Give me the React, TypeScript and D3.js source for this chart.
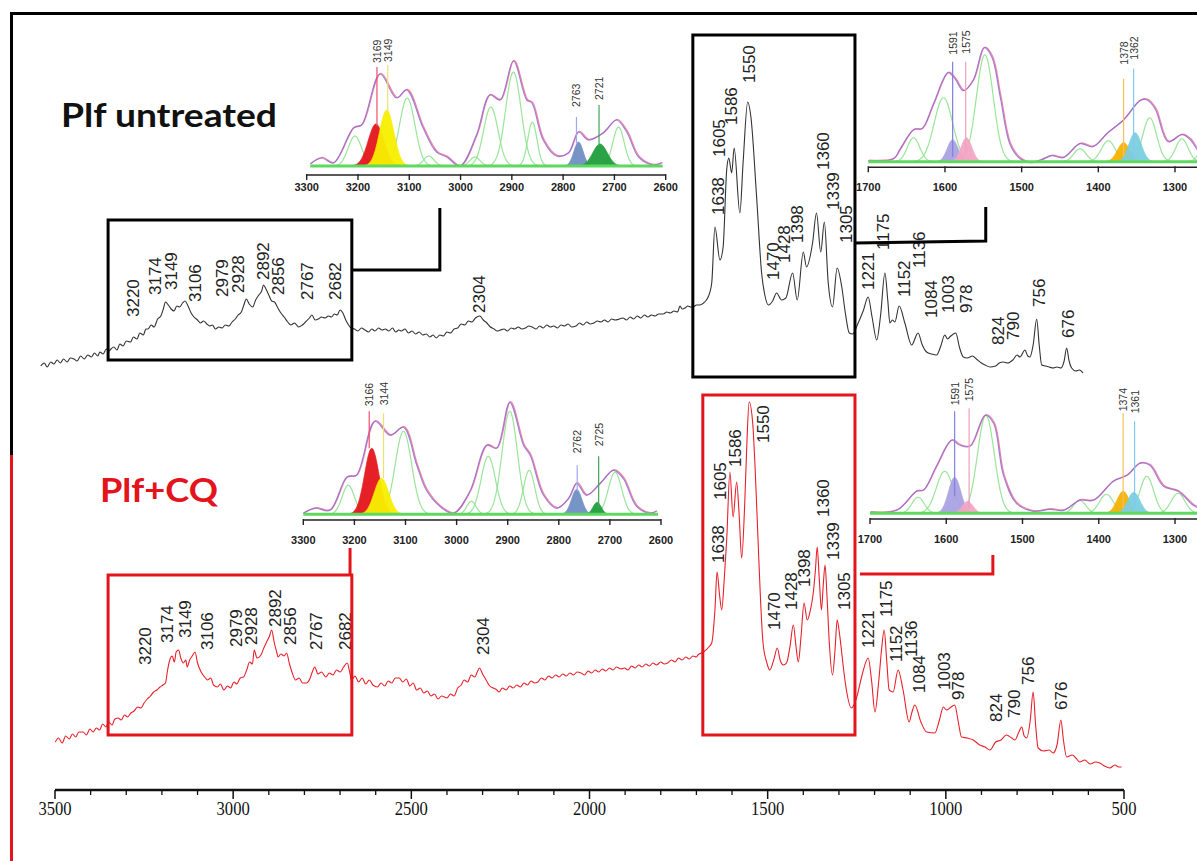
import React from 'react';
import * as d3 from 'd3';

// ---------------- DATA ----------------
const axisMajorTicks = [3500, 3000, 2500, 2000, 1500, 1000, 500];
const axisMajorLabels = ['3500', '3000', '2500', '2000', '1500', '1000', '500'];

// Plf untreated spectrum: [wavenumber cm-1, intensity a.u.]
const untreatedSpectrum: [number, number][] = [
  [3540,9],[3530,12],[3522,8],[3512,13],[3503,11],[3494,15],[3485,12],[3476,16],[3466,13],[3457,17],[3447,16],[3438,14],[3428,19],[3418,16],[3408,20],[3398,18],[3389,22],[3380,19],[3374,23],[3365,21],[3356,26],[3348,24],[3343,26],[3335,28],[3326,25],[3318,31],[3309,29],[3300,34],[3288,33],[3280,38],[3270,36],[3262,42],[3252,40],[3245,46],[3239,46],[3230,50],[3222,48],[3212,56],[3203,59],[3196,66],[3190,73],[3182,70],[3174,66],[3166,64],[3158,69],[3150,68],[3142,72],[3135,74],[3128,70],[3118,62],[3110,58],[3100,55],[3092,52],[3083,54],[3074,51],[3066,49],[3058,50],[3050,46],[3040,48],[3031,47],[3022,50],[3012,49],[3003,53],[2994,56],[2986,60],[2977,63],[2970,70],[2963,76],[2955,71],[2945,68],[2937,75],[2928,80],[2920,84],[2915,90],[2908,86],[2900,80],[2892,74],[2884,73],[2876,68],[2866,62],[2857,58],[2847,53],[2838,50],[2828,52],[2816,48],[2806,50],[2797,53],[2786,57],[2779,60],[2770,55],[2761,56],[2752,58],[2742,57],[2733,59],[2724,58],[2716,61],[2708,60],[2700,65],[2692,62],[2684,55],[2676,50],[2669,47],[2660,46],[2650,44],[2640,47],[2630,45],[2620,43],[2611,46],[2602,44],[2592,47],[2582,45],[2573,46],[2563,44],[2553,47],[2544,43],[2535,45],[2528,44],[2518,46],[2508,42],[2498,44],[2488,41],[2478,43],[2468,40],[2458,41],[2448,38],[2439,40],[2430,37],[2420,40],[2410,39],[2400,43],[2390,42],[2380,46],[2370,47],[2360,51],[2350,50],[2340,54],[2330,53],[2320,57],[2308,59],[2298,55],[2288,52],[2278,48],[2268,46],[2259,44],[2250,45],[2240,46],[2230,44],[2220,47],[2210,46],[2200,48],[2190,46],[2180,47],[2170,49],[2161,48],[2150,46],[2140,49],[2130,47],[2120,50],[2110,48],[2100,49],[2090,47],[2080,50],[2070,49],[2060,51],[2050,48],[2038,49],[2028,52],[2018,50],[2008,53],[1998,51],[1988,52],[1978,54],[1968,53],[1958,55],[1948,53],[1938,56],[1928,55],[1916,56],[1906,57],[1896,55],[1886,58],[1876,56],[1866,59],[1856,57],[1846,60],[1836,58],[1826,60],[1816,59],[1806,61],[1793,61],[1783,63],[1773,62],[1763,64],[1753,63],[1746,69],[1740,66],[1732,67],[1724,69],[1716,68],[1709,68],[1700,70],[1690,70],[1680,72],[1672,75],[1667,78],[1657,92],[1648,148],[1634,115],[1625,128],[1615,205],[1609,217],[1601,202],[1594,227],[1578,162],[1569,212],[1556,273],[1547,258],[1531,178],[1517,102],[1508,80],[1498,70],[1486,74],[1475,82],[1461,75],[1449,77],[1430,102],[1417,75],[1400,123],[1391,108],[1374,132],[1363,162],[1351,123],[1341,153],[1330,92],[1318,68],[1305,107],[1292,88],[1282,62],[1271,42],[1262,41],[1246,52],[1232,64],[1218,78],[1207,58],[1194,35],[1183,60],[1171,102],[1163,75],[1157,52],[1150,55],[1143,53],[1131,69],[1115,52],[1096,30],[1078,42],[1066,30],[1054,23],[1040,21],[1026,20],[1015,28],[1003,40],[995,36],[989,38],[972,42],[962,28],[951,18],[940,17],[925,19],[914,16],[900,12],[890,10],[876,8],[860,9],[850,12],[839,13],[826,12],[812,15],[800,20],[792,18],[778,25],[770,19],[764,18],[755,30],[745,56],[738,30],[731,10],[720,9],[710,8],[699,7],[688,8],[677,7],[668,14],[661,27],[654,14],[647,7],[635,4],[625,5],[615,2]
];

// Plf+CQ spectrum
const cqSpectrum: [number, number][] = [
  [3499,18],[3490,22],[3480,17],[3470,24],[3460,21],[3451,26],[3442,23],[3433,28],[3421,28],[3412,25],[3402,31],[3393,28],[3384,32],[3375,30],[3366,36],[3357,33],[3349,38],[3340,35],[3332,41],[3323,42],[3314,40],[3305,45],[3296,43],[3287,47],[3278,49],[3268,53],[3259,52],[3250,57],[3241,61],[3232,64],[3223,68],[3214,70],[3205,73],[3197,75],[3190,77],[3184,90],[3178,100],[3171,104],[3165,98],[3160,108],[3153,110],[3147,102],[3140,97],[3133,100],[3129,93],[3122,100],[3115,104],[3107,108],[3100,97],[3090,88],[3080,83],[3072,80],[3063,82],[3055,75],[3044,73],[3036,76],[3026,70],[3016,74],[3007,72],[2998,78],[2990,76],[2980,82],[2971,83],[2962,90],[2954,98],[2946,96],[2941,110],[2933,102],[2922,105],[2914,112],[2906,118],[2898,124],[2892,130],[2885,118],[2878,108],[2874,103],[2866,106],[2857,104],[2850,107],[2842,96],[2835,88],[2825,80],[2815,82],[2805,77],[2795,77],[2785,81],[2778,88],[2771,93],[2762,86],[2752,88],[2740,83],[2730,87],[2720,85],[2710,90],[2700,88],[2690,93],[2680,97],[2673,88],[2668,80],[2658,84],[2648,78],[2638,82],[2628,76],[2618,80],[2608,75],[2595,73],[2585,77],[2575,74],[2565,79],[2555,77],[2545,82],[2534,82],[2524,78],[2514,81],[2504,74],[2495,77],[2485,70],[2475,72],[2465,67],[2455,69],[2445,64],[2435,66],[2425,61],[2415,64],[2400,62],[2390,66],[2380,64],[2370,72],[2360,75],[2352,80],[2342,78],[2332,85],[2322,83],[2315,88],[2309,92],[2300,86],[2290,80],[2280,74],[2270,72],[2260,70],[2254,68],[2244,72],[2234,70],[2224,74],[2214,72],[2204,75],[2194,73],[2184,77],[2174,75],[2164,79],[2154,77],[2145,78],[2135,82],[2125,80],[2115,84],[2105,82],[2095,85],[2085,83],[2075,86],[2065,84],[2055,87],[2045,85],[2035,88],[2024,87],[2014,85],[2004,89],[1994,87],[1984,90],[1974,88],[1964,91],[1954,89],[1944,92],[1934,90],[1924,93],[1912,91],[1902,92],[1892,90],[1882,94],[1872,92],[1862,95],[1852,93],[1842,96],[1832,94],[1822,97],[1812,95],[1800,98],[1790,96],[1781,97],[1770,100],[1760,98],[1750,102],[1740,100],[1730,103],[1720,101],[1710,104],[1700,103],[1696,105],[1680,108],[1665,113],[1657,117],[1648,150],[1642,188],[1635,165],[1629,150],[1622,180],[1615,220],[1606,288],[1597,243],[1587,278],[1580,245],[1573,202],[1564,260],[1558,320],[1552,358],[1542,337],[1535,290],[1527,220],[1520,160],[1513,117],[1503,98],[1494,90],[1483,100],[1473,112],[1465,100],[1456,95],[1447,97],[1438,112],[1428,135],[1420,112],[1414,98],[1406,125],[1398,157],[1389,140],[1380,150],[1372,167],[1366,190],[1361,213],[1355,180],[1349,150],[1344,175],[1339,195],[1333,160],[1327,117],[1318,85],[1311,110],[1305,140],[1299,128],[1293,110],[1286,88],[1279,70],[1265,52],[1258,55],[1250,63],[1235,85],[1218,102],[1208,78],[1199,48],[1188,80],[1180,112],[1173,130],[1166,100],[1159,70],[1148,68],[1134,90],[1120,70],[1103,38],[1095,48],[1087,55],[1070,38],[1054,28],[1031,27],[1018,40],[1007,53],[998,50],[989,52],[975,55],[965,38],[956,23],[940,22],[923,20],[905,15],[890,13],[876,10],[860,18],[845,20],[830,25],[815,22],[806,20],[795,28],[787,33],[780,24],[773,22],[763,40],[755,68],[748,35],[741,12],[725,9],[710,10],[699,7],[688,15],[677,40],[670,20],[661,3],[645,5],[635,2],[624,-2],[610,0],[595,-4],[580,-2],[568,-3],[555,-6],[540,-8],[525,-5],[515,-7],[507,-7]
];

// Peak labels: text, position (wn), intensity where the label starts
const untreatedPeakLabels = [
  { t: '3220', wn: 3280, at: 58 }, { t: '3174', wn: 3219, at: 80 }, { t: '3149', wn: 3172, at: 85 },
  { t: '3106', wn: 3107, at: 73 }, { t: '2979', wn: 3029, at: 78 }, { t: '2928', wn: 2986, at: 82 },
  { t: '2892', wn: 2915, at: 95 }, { t: '2856', wn: 2873, at: 80 }, { t: '2767', wn: 2792, at: 75 },
  { t: '2682', wn: 2714, at: 75 }, { t: '2304', wn: 2308, at: 62 },
  { t: '1638', wn: 1639, at: 160 }, { t: '1605', wn: 1636, at: 218 }, { t: '1586', wn: 1601, at: 250 },
  { t: '1550', wn: 1550, at: 292 }, { t: '1470', wn: 1484, at: 95 }, { t: '1428', wn: 1452, at: 112 },
  { t: '1398', wn: 1417, at: 132 }, { t: '1360', wn: 1344, at: 205 }, { t: '1339', wn: 1314, at: 165 },
  { t: '1305', wn: 1279, at: 132 }, { t: '1221', wn: 1218, at: 85 }, { t: '1175', wn: 1176, at: 125 },
  { t: '1152', wn: 1115, at: 78 }, { t: '1136', wn: 1073, at: 107 }, { t: '1084', wn: 1040, at: 57 },
  { t: '1003', wn: 993, at: 62 }, { t: '978', wn: 942, at: 62 }, { t: '824', wn: 853, at: 30 },
  { t: '790', wn: 811, at: 35 }, { t: '756', wn: 738, at: 68 }, { t: '676', wn: 657, at: 37 }
];

const cqPeakLabels = [
  { t: '3220', wn: 3245, at: 95 }, { t: '3174', wn: 3184, at: 117 }, { t: '3149', wn: 3135, at: 122 },
  { t: '3106', wn: 3071, at: 110 }, { t: '2979', wn: 2992, at: 113 }, { t: '2928', wn: 2949, at: 115 },
  { t: '2892', wn: 2880, at: 133 }, { t: '2856', wn: 2838, at: 115 }, { t: '2767', wn: 2765, at: 110 },
  { t: '2682', wn: 2686, at: 110 }, { t: '2304', wn: 2297, at: 105 },
  { t: '1638', wn: 1639, at: 197 }, { t: '1605', wn: 1632, at: 260 }, { t: '1586', wn: 1589, at: 293 },
  { t: '1550', wn: 1512, at: 317 }, { t: '1470', wn: 1480, at: 130 }, { t: '1428', wn: 1433, at: 150 },
  { t: '1398', wn: 1398, at: 173 }, { t: '1360', wn: 1344, at: 243 }, { t: '1339', wn: 1316, at: 200 },
  { t: '1305', wn: 1283, at: 150 }, { t: '1221', wn: 1218, at: 112 }, { t: '1175', wn: 1166, at: 143 },
  { t: '1152', wn: 1138, at: 98 }, { t: '1136', wn: 1096, at: 103 }, { t: '1084', wn: 1073, at: 67 },
  { t: '1003', wn: 1003, at: 70 }, { t: '978', wn: 965, at: 60 }, { t: '824', wn: 858, at: 38 },
  { t: '790', wn: 806, at: 42 }, { t: '756', wn: 769, at: 75 }, { t: '676', wn: 675, at: 50 }
];

// Deconvolution insets: fitted components (centre, height, sigma, kind)
const untreatedCHComponents = [
  { c: 3206, h: 30, s: 13, k: 'g' }, { c: 3165, h: 42, s: 15, k: 'red' }, { c: 3144, h: 56, s: 14, k: 'yellow' },
  { c: 3104, h: 68, s: 15, k: 'g' }, { c: 3062, h: 10, s: 10, k: 'g' }, { c: 2972, h: 9, s: 10, k: 'g' },
  { c: 2941, h: 59, s: 14, k: 'g' }, { c: 2897, h: 94, s: 15, k: 'g' }, { c: 2860, h: 44, s: 9, k: 'g' },
  { c: 2770, h: 24, s: 9, k: 'blue' }, { c: 2728, h: 22, s: 14, k: 'dgreen' }, { c: 2692, h: 39, s: 11, k: 'g' }
];
const untreatedCHEnvelope: [number, number][] = [
  [3293,2],[3271,8],[3248,3],[3209,38],[3193,41],[3157,92],[3125,68],[3105,76],[3073,38],[3047,14],[3027,9],[3001,0],[2969,31],[2943,71],[2923,66],[2897,105],[2871,66],[2861,63],[2839,26],[2813,10],[2790,13],[2770,34],[2751,26],[2722,33],[2696,46],[2676,34],[2653,9],[2624,1],[2608,3]
];
const untreatedCHMarks = [
  { t: '3169', wn: 3163, k: 'red', top: 99, bot: 40, tx: 103 },
  { t: '3149', wn: 3142, k: 'yellow', top: 101, bot: 54, tx: 104 },
  { t: '2763', wn: 2774, k: 'blue', top: 49, bot: 23, tx: 59 },
  { t: '2721', wn: 2730, k: 'dgreen', top: 61, bot: 19, tx: 66 }
];

const untreatedFPComponents = [
  { c: 1641, h: 24, s: 8, k: 'g' }, { c: 1602, h: 64, s: 12, k: 'g' }, { c: 1590, h: 22, s: 7, k: 'lav' },
  { c: 1572, h: 24, s: 7, k: 'pink' }, { c: 1548, h: 107, s: 11, k: 'g' }, { c: 1424, h: 13, s: 8, k: 'g' },
  { c: 1387, h: 21, s: 9, k: 'g' }, { c: 1367, h: 19, s: 8, k: 'orange' }, { c: 1352, h: 29, s: 8, k: 'cyan' },
  { c: 1333, h: 44, s: 9, k: 'g' }, { c: 1291, h: 23, s: 8, k: 'g' }, { c: 1255, h: 30, s: 9, k: 'g' }
];
const untreatedFPEnvelope: [number, number][] = [
  [1700,1],[1667,3],[1659,12],[1641,32],[1630,33],[1615,58],[1596,89],[1587,83],[1576,71],[1563,82],[1549,114],[1539,105],[1528,65],[1515,17],[1502,3],[1489,-1],[1474,2],[1461,6],[1446,4],[1424,18],[1407,15],[1389,28],[1367,42],[1346,61],[1337,62],[1326,53],[1309,20],[1291,27],[1280,22],[1271,12],[1262,5]
];
const untreatedFPMarks = [
  { t: '1591', wn: 1590, k: 'lav', top: 100, bot: 5, tx: 107 },
  { t: '1575', wn: 1573, k: 'pink', top: 100, bot: 9, tx: 108 },
  { t: '1378', wn: 1367, k: 'orange', top: 83, bot: 5, tx: 97 },
  { t: '1362', wn: 1354, k: 'cyan', top: 93, bot: 5, tx: 102 }
];

const cqCHComponents = [
  { c: 3212, h: 29, s: 12, k: 'g' }, { c: 3166, h: 66, s: 14, k: 'red' }, { c: 3147, h: 36, s: 14, k: 'yellow' },
  { c: 3104, h: 83, s: 16, k: 'g' }, { c: 2971, h: 13, s: 9, k: 'g' }, { c: 2938, h: 58, s: 14, k: 'g' },
  { c: 2896, h: 103, s: 15, k: 'g' }, { c: 2858, h: 44, s: 11, k: 'g' }, { c: 2765, h: 25, s: 10, k: 'blue' },
  { c: 2725, h: 12, s: 8, k: 'dgreen' }, { c: 2690, h: 42, s: 13, k: 'g' }
];
const cqCHEnvelope: [number, number][] = [
  [3300,1],[3277,6],[3248,4],[3215,37],[3196,39],[3160,93],[3130,79],[3104,87],[3078,49],[3059,24],[3033,8],[3006,1],[2974,23],[2941,69],[2922,66],[2896,112],[2869,69],[2856,59],[2830,19],[2804,6],[2781,16],[2765,31],[2746,19],[2719,31],[2693,44],[2674,36],[2648,8],[2622,1],[2609,3]
];
const cqCHMarks = [
  { t: '3166', wn: 3171, k: 'red', top: 103, bot: 66, tx: 108 },
  { t: '3144', wn: 3143, k: 'yellow', top: 101, bot: 36, tx: 109 },
  { t: '2762', wn: 2764, k: 'blue', top: 49, bot: 23, tx: 61 },
  { t: '2725', wn: 2722, k: 'dgreen', top: 58, bot: 6, tx: 68 }
];

const cqFPComponents = [
  { c: 1637, h: 16, s: 8, k: 'g' }, { c: 1602, h: 42, s: 11, k: 'g' }, { c: 1589, h: 36, s: 8, k: 'lav' },
  { c: 1572, h: 12, s: 7, k: 'pink' }, { c: 1548, h: 98, s: 11, k: 'g' }, { c: 1425, h: 13, s: 8, k: 'g' },
  { c: 1390, h: 19, s: 9, k: 'g' }, { c: 1368, h: 22, s: 8, k: 'orange' }, { c: 1354, h: 21, s: 8, k: 'cyan' },
  { c: 1337, h: 37, s: 9, k: 'g' }, { c: 1296, h: 20, s: 9, k: 'g' }
];
const cqFPEnvelope: [number, number][] = [
  [1700,1],[1665,3],[1639,22],[1630,23],[1613,47],[1593,73],[1582,68],[1569,67],[1549,98],[1538,90],[1525,38],[1508,10],[1486,2],[1464,4],[1446,3],[1425,13],[1407,13],[1381,32],[1363,38],[1346,50],[1333,48],[1315,27],[1296,22],[1276,8],[1265,4]
];
const cqFPMarks = [
  { t: '1591', wn: 1589, k: 'lav', top: 102, bot: 17, tx: 108 },
  { t: '1575', wn: 1570, k: 'pink', top: 105, bot: 5, tx: 112 },
  { t: '1374', wn: 1368, k: 'orange', top: 100, bot: 5, tx: 102 },
  { t: '1361', wn: 1353, k: 'cyan', top: 92, bot: 5, tx: 100 }
];

// ---------------- STYLE / LAYOUT ----------------
const W = 1197, H = 861;
const RED = '#e3141c';
const fillColor: Record<string, string> = {
  red: '#e4151b', yellow: '#f7ef00', blue: '#6f8fc2', dgreen: '#1f9e3c',
  lav: '#aaa3e3', pink: '#f3a6c4', orange: '#f5b301', cyan: '#7ccfe0'
};
const markColor: Record<string, string> = {
  red: '#f0506a', yellow: '#f0e070', blue: '#a0a8f0', dgreen: '#3aa85a',
  lav: '#8080e0', pink: '#f0a0b8', orange: '#f8c060', cyan: '#80c8f0'
};

const xMain = d3.scaleLinear().domain([3500, 500]).range([55, 1124]);
const yUntreated = d3.scaleLinear().domain([0, 275]).range([375, 100]);
const yCQ = d3.scaleLinear().domain([0, 360]).range([760, 400]);

type Comp = { c: number; h: number; s: number; k: string };
type Mark = { t: string; wn: number; k: string; top: number; bot: number; tx: number };

const insetDefs = [
  { id: 'uCH', dom: [3300, 2600], rng: [306.7, 665.7], base: 166, axisY: 175, lblY: 191, ticks: [3300, 3200, 3100, 3000, 2900, 2800, 2700, 2600], axisTo: 2600, lineFrom: 3293, lineTo: 2606, comps: untreatedCHComponents, env: untreatedCHEnvelope, marks: untreatedCHMarks },
  { id: 'uFP', dom: [1700, 1300], rng: [868.3, 1175], base: 161.7, axisY: 167.3, lblY: 191, ticks: [1700, 1600, 1500, 1400, 1300], axisTo: 1250, lineFrom: 1700, lineTo: 1250, comps: untreatedFPComponents, env: untreatedFPEnvelope, marks: untreatedFPMarks },
  { id: 'cCH', dom: [3300, 2600], rng: [303.3, 661], base: 514.3, axisY: 520, lblY: 544, ticks: [3300, 3200, 3100, 3000, 2900, 2800, 2700, 2600], axisTo: 2600, lineFrom: 3300, lineTo: 2606, comps: cqCHComponents, env: cqCHEnvelope, marks: cqCHMarks },
  { id: 'cFP', dom: [1700, 1300], rng: [870, 1175], base: 513.3, axisY: 519, lblY: 543, ticks: [1700, 1600, 1500, 1400, 1300], axisTo: 1250, lineFrom: 1700, lineTo: 1250, comps: cqFPComponents, env: cqFPEnvelope, marks: cqFPMarks }
];

function Inset({ def }: { def: any }) {
  const xs = d3.scaleLinear().domain(def.dom).range(def.rng);
  const ys = d3.scaleLinear().domain([0, 120]).range([def.base, def.base - 120]);
  const compPts = (c: Comp) =>
    d3.range(c.c + 4 * c.s, c.c - 4 * c.s - 0.01, -1).map((w) => [w, c.h * Math.exp(-((w - c.c) ** 2) / (2 * c.s * c.s))] as [number, number]);
  const area = d3.area<[number, number]>().x((d) => xs(d[0])).y0(ys(0)).y1((d) => ys(d[1])).curve(d3.curveBasis);
  const line = d3.line<[number, number]>().x((d) => xs(d[0])).y((d) => ys(d[1])).curve(d3.curveBasis);
  const envLine = d3.line<[number, number]>().x((d) => xs(d[0])).y((d) => ys(d[1])).curve(d3.curveCatmullRom.alpha(0.5));
  const comps: Comp[] = def.comps;
  const marks: Mark[] = def.marks;
  return (
    <g>
      {comps.filter((c) => c.k === 'g').map((c, i) => (
        <path key={'g' + i} d={line(compPts(c)) || ''} fill="none" stroke="#8fe28f" strokeWidth={1.2} opacity={0.9} />
      ))}
      {comps.filter((c) => c.k !== 'g').map((c, i) => (
        <path key={'f' + i} d={area(compPts(c)) || ''} fill={fillColor[c.k]} stroke={fillColor[c.k]} strokeWidth={0.8} opacity={0.95} />
      ))}
      <path d={envLine(def.env) || ''} fill="none" stroke="#f08aa0" strokeWidth={1.3} transform="translate(0.8,-0.6)" />
      <path d={envLine(def.env) || ''} fill="none" stroke="#9468d6" strokeWidth={1.2} opacity={0.85} />
      <line x1={xs(def.lineFrom)} x2={xs(def.lineTo)} y1={ys(0)} y2={ys(0)} stroke="#5fd85f" strokeWidth={3} />
      {marks.map((m, i) => (
        <g key={'m' + i}>
          <line x1={xs(m.wn)} x2={xs(m.wn)} y1={ys(m.top)} y2={ys(m.bot)} stroke={markColor[m.k]} strokeWidth={1.2} />
          <text x={xs(m.wn)} y={ys(m.tx)} transform={`rotate(-90 ${xs(m.wn)} ${ys(m.tx)})`} fontSize={10.5}
            fontFamily="'Liberation Sans', Arial, sans-serif" fill="#333" dominantBaseline="central">{m.t}</text>
        </g>
      ))}
      <line x1={xs(def.dom[0])} x2={xs(def.axisTo)} y1={def.axisY} y2={def.axisY} stroke="#222" strokeWidth={1.6} />
      {def.ticks.map((t: number) => (
        <g key={t}>
          <line x1={xs(t)} x2={xs(t)} y1={def.axisY - 1} y2={def.axisY + 5} stroke="#222" strokeWidth={1.4} />
          <text x={xs(t)} y={def.lblY} textAnchor="middle" fontSize={11} fontWeight="bold"
            fontFamily="'Liberation Sans', Arial, sans-serif" fill="#222">{t}</text>
        </g>
      ))}
    </g>
  );
}

export default function App() {
  const lineU = d3.line<[number, number]>().x((d) => xMain(d[0])).y((d) => yUntreated(d[1])).curve(d3.curveMonotoneX);
  const lineC = d3.line<[number, number]>().x((d) => xMain(d[0])).y((d) => yCQ(d[1])).curve(d3.curveMonotoneX);
  const minorTicks = d3.range(500, 3501, 100).filter((t) => t % 500 !== 0);
  const axisY = 790;

  const rect = (w0: number, w1: number, i0: number, i1: number, ys: any) => ({
    x: xMain(w0), y: ys(i1), width: xMain(w1) - xMain(w0), height: ys(i0) - ys(i1)
  });
  const bU1 = rect(3351, 2667, 15, 155, yUntreated);
  const bU2 = rect(1710, 1255, -2, 340, yUntreated);
  const bC1 = rect(3351, 2667, 25, 185, yCQ);
  const bC2 = rect(1682, 1255, 25, 365, yCQ);
  const pl = (pts: [number, number][], ys: any) => pts.map((p) => `${xMain(p[0])},${ys(p[1])}`).join(' ');

  const labelEls = (labels: { t: string; wn: number; at: number }[], ys: any, key: string) =>
    labels.map((l, i) => {
      const x = xMain(l.wn), y = ys(l.at);
      return (
        <text key={key + i} x={x} y={y} transform={`rotate(-90 ${x} ${y})`} fontSize={17}
          fontFamily="'Liberation Sans', Arial, sans-serif" fill="#222" dominantBaseline="central">{l.t}</text>
      );
    });

  return (
    <svg width={W} height={H} style={{ position: 'absolute', left: 0, top: 0, background: '#fff' }}>
      <rect x={0} y={0} width={W} height={H} fill="#fff" />
      {/* frame */}
      <line x1={10} x2={W} y1={13.5} y2={13.5} stroke="#000" strokeWidth={3} />
      <line x1={11.5} x2={11.5} y1={12} y2={455} stroke="#000" strokeWidth={3} />
      <line x1={11.5} x2={11.5} y1={455} y2={H} stroke={RED} strokeWidth={3} />

      {/* titles */}
      <text x={61} y={127} fontSize={33} fontWeight="bold" fontFamily="Lato, 'DejaVu Sans', sans-serif" fill="#111"
        textLength={216} lengthAdjust="spacingAndGlyphs">Plf untreated</text>
      <text x={100} y={502} fontSize={33} fontWeight="bold" fontFamily="Lato, 'DejaVu Sans', sans-serif" fill={RED}
        textLength={118} lengthAdjust="spacingAndGlyphs">Plf+CQ</text>

      {/* insets */}
      {insetDefs.map((d) => <Inset key={d.id} def={d} />)}

      {/* spectra */}
      <path d={lineU(untreatedSpectrum) || ''} fill="none" stroke="#333" strokeWidth={1.1} />
      <path d={lineC(cqSpectrum) || ''} fill="none" stroke="#e8202a" strokeWidth={1.1} />

      {/* peak labels */}
      {labelEls(untreatedPeakLabels, yUntreated, 'u')}
      {labelEls(cqPeakLabels, yCQ, 'c')}

      {/* boxes + connectors */}
      <rect {...bU1} fill="none" stroke="#000" strokeWidth={3} />
      <rect {...bU2} fill="none" stroke="#000" strokeWidth={3} />
      <polyline points={pl([[2667, 105], [2420, 105], [2420, 167]], yUntreated)} fill="none" stroke="#000" strokeWidth={3} />
      <polyline points={pl([[1255, 132], [888, 134], [888, 168]], yUntreated)} fill="none" stroke="#000" strokeWidth={3} />
      <rect {...bC1} fill="none" stroke={RED} strokeWidth={3} />
      <rect {...bC2} fill="none" stroke={RED} strokeWidth={3} />
      <polyline points={pl([[2672, 185], [2672, 212]], yCQ)} fill="none" stroke={RED} strokeWidth={3} />
      <polyline points={pl([[1241, 186], [868, 186], [868, 205]], yCQ)} fill="none" stroke={RED} strokeWidth={3} />

      {/* main x axis */}
      <line x1={xMain(3500)} x2={xMain(500)} y1={axisY} y2={axisY} stroke="#111" strokeWidth={2.5} />
      {minorTicks.map((t) => (
        <line key={'mi' + t} x1={xMain(t)} x2={xMain(t)} y1={axisY} y2={axisY + 5} stroke="#111" strokeWidth={1.3} />
      ))}
      {axisMajorTicks.map((t, i) => (
        <g key={'ma' + t}>
          <line x1={xMain(t)} x2={xMain(t)} y1={axisY} y2={axisY + 9} stroke="#111" strokeWidth={1.5} />
          <text x={xMain(t)} y={815} textAnchor="middle" fontSize={18}
            fontFamily="'Liberation Serif', 'Times New Roman', serif" fill="#111"
            textLength={axisMajorLabels[i].length * 8.3} lengthAdjust="spacingAndGlyphs">{axisMajorLabels[i]}</text>
        </g>
      ))}
    </svg>
  );
}
